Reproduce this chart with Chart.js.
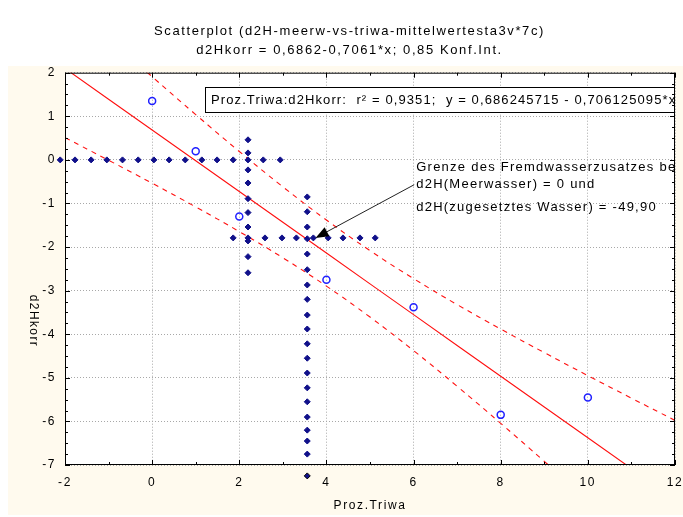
<!DOCTYPE html>
<html>
<head>
<meta charset="utf-8">
<script src="https://cdn.jsdelivr.net/npm/chart.js@4.4.0/dist/chart.umd.min.js"></script>
<style>
  html, body { margin: 0; padding: 0; background: #fff; }
  canvas { display: block; }
</style>
</head>
<body>
<canvas id="scatterChart" width="683" height="517"></canvas>
<script>
// measured points
var pointX = [0, 1, 2, 4, 6, 8, 10];
var pointY = [1.35, 0.2, -1.3, -2.75, -3.38, -5.85, -5.45];

// regression line and 0,85 confidence band
var lineX = [-2, -1, 0, 1, 2, 3, 4, 5, 6, 7, 8, 9, 10, 11, 12];
var fitY = [2.098, 1.392, 0.686, -0.020, -0.726, -1.432, -2.138, -2.844, -3.550, -4.257, -4.963, -5.669, -6.375, -7.081, -7.787];
var upperY = [3.686, 2.792, 1.908, 1.039, 0.193, -0.618, -1.380, -2.082, -2.724, -3.320, -3.882, -4.422, -4.949, -5.466, -5.977];
var lowerY = [0.510, -0.008, -0.536, -1.079, -1.645, -2.246, -2.896, -3.606, -4.376, -5.194, -6.044, -6.916, -7.801, -8.696, -9.597];

// marker crosses
var row0X = [-2.11, -1.77, -1.4, -1.04, -0.68, -0.32, 0.04, 0.39, 0.76, 1.14, 1.49, 1.86, 2.2, 2.55, 2.94];
var row0Y = 0;
var col1X = 2.2;
var col1Y = [0.46, 0.16, -0.23, -0.53, -0.89, -1.21, -1.54, -1.86, -2.22, -2.59];
var row2X = [1.86, 2.2, 2.59, 2.98, 3.31, 3.7, 4.04, 4.38, 4.77, 5.12];
var row2Y = -1.79;
var col2X = 3.56;
var col2Y = [-0.85, -1.19, -1.54, -1.81, -2.16, -2.52, -2.87, -3.2, -3.56, -3.88, -4.22, -4.55, -4.89, -5.23, -5.55, -5.9, -6.2, -6.45, -6.75, -7.25];

var xTicks = [-2, 0, 2, 4, 6, 8, 10, 12];
var yTicks = [2, 1, 0, -1, -2, -3, -4, -5, -6, -7];

var titleLines = ['Scatterplot (d2H-meerw-vs-triwa-mittelwertesta3v*7c)', 'd2Hkorr = 0,6862-0,7061*x; 0,85 Konf.Int.'];
var boxText = 'Proz.Triwa:d2Hkorr:  r\u00B2 = 0,9351;  y = 0,686245715 - 0,706125095*x';
var noteLines = ['Grenze des Fremdwasserzusatzes bei', 'd2H(Meerwasser) = 0 und', 'd2H(zugesetztes Wasser) = -49,90'];

var FONT = '"Liberation Sans", Arial, sans-serif';
var MARK = '#10108a';

function pairs(xs, ys) {
    return xs.map(function (x, i) { return { x: x, y: ys[i] }; });
}

var decor = {
    id: 'decor',
    beforeDraw: function (chart) {
        var c = chart.ctx, a = chart.chartArea;
        c.save();
        c.fillStyle = '#fffaee';
        c.fillRect(8, 66, chart.width - 8, 515 - 66);
        c.fillStyle = '#ffffff';
        c.fillRect(a.left, a.top, a.right - a.left, a.bottom - a.top);
        c.restore();
        c.letterSpacing = '1.6px';
    },
    afterDatasetsDraw: function (chart) {
        var c = chart.ctx, a = chart.chartArea;
        var xs = chart.scales.x, ys = chart.scales.y;
        c.save();
        c.beginPath();
        c.rect(a.left, a.top, a.right - a.left, a.bottom - a.top);
        c.clip();

        // regression box
        c.fillStyle = '#fff';
        c.fillRect(205, 87, a.right - 205, 25);
        c.strokeStyle = '#000';
        c.lineWidth = 1;
        c.strokeRect(205.5, 87.5, a.right - 205, 25);
        c.fillStyle = '#000';
        c.font = '13px ' + FONT;
        c.letterSpacing = '1.1px';
        c.textBaseline = 'middle';
        c.fillText(boxText, 211, 100);

        // note text + arrow
        var nx = xs.getPixelForValue(6.06);
        var ny = ys.getPixelForValue(-0.18);
        c.letterSpacing = '1.25px';
        c.fillText(noteLines[0], nx, ny);
        c.fillText(noteLines[1], nx, ny + 17);
        c.fillText(noteLines[2], nx, ny + 40);

        var sx = nx - 2, sy = ny + 17;
        var tx = xs.getPixelForValue(3.75), ty = ys.getPixelForValue(-1.79);
        var ang = Math.atan2(ty - sy, tx - sx);
        c.strokeStyle = '#222';
        c.lineWidth = 1;
        c.beginPath();
        c.moveTo(sx, sy);
        c.lineTo(tx - 8 * Math.cos(ang), ty - 8 * Math.sin(ang));
        c.stroke();
        c.fillStyle = '#000';
        c.beginPath();
        c.moveTo(tx, ty);
        c.lineTo(tx - 13 * Math.cos(ang) + 5 * Math.sin(ang), ty - 13 * Math.sin(ang) - 5 * Math.cos(ang));
        c.lineTo(tx - 13 * Math.cos(ang) - 5 * Math.sin(ang), ty - 13 * Math.sin(ang) + 5 * Math.cos(ang));
        c.closePath();
        c.fill();
        c.restore();
    },
    afterDraw: function (chart) {
        var c = chart.ctx, a = chart.chartArea;
        var xs = chart.scales.x, ys = chart.scales.y;
        c.save();
        c.strokeStyle = '#000';
        c.lineWidth = 1;
        c.strokeRect(a.left + 0.5, a.top + 0.5, a.right - a.left - 1, a.bottom - a.top - 1);
        c.beginPath();
        var v, p, len;
        for (v = -2; v <= 12; v += 1) {
            p = Math.round(xs.getPixelForValue(v)) + 0.5;
            len = v % 2 === 0 ? 5 : 3;
            c.moveTo(p, a.bottom); c.lineTo(p, a.bottom - len);
            c.moveTo(p, a.top); c.lineTo(p, a.top + len);
        }
        for (v = -7; v <= 2; v += 0.25) {
            p = Math.round(ys.getPixelForValue(v)) + 0.5;
            len = Math.abs(v - Math.round(v)) < 0.01 ? 5 : 3;
            c.moveTo(a.left, p); c.lineTo(a.left + len, p);
            c.moveTo(a.right, p); c.lineTo(a.right - len, p);
        }
        c.stroke();

        // markers of the vertical cross that fall below the axis
        c.fillStyle = MARK;
        col2Y.forEach(function (y) {
            if (y < ys.min) {
                Chart.helpers.drawPoint(c, { pointStyle: 'rectRot', radius: 3, borderWidth: 1 },
                    xs.getPixelForValue(col2X), ys.getPixelForValue(y));
            }
        });

        // y axis title reads top to bottom
        c.translate(33, 321);
        c.rotate(Math.PI / 2);
        c.fillStyle = '#000';
        c.font = '12px ' + FONT;
        c.letterSpacing = '1.4px';
        c.textAlign = 'center';
        c.textBaseline = 'middle';
        c.fillText('d2Hkorr', 0, 0);
        c.restore();
    }
};

var markerStyle = {
    showLine: false,
    pointStyle: 'rectRot',
    pointRadius: 3,
    backgroundColor: MARK,
    borderColor: MARK,
    borderWidth: 1
};

var ctx = document.getElementById('scatterChart').getContext('2d');
var scatterChart = new Chart(ctx, {
    type: 'scatter',
    data: {
        datasets: [
            Object.assign({ data: pairs(row0X, row0X.map(function () { return row0Y; })), clip: false }, markerStyle),
            Object.assign({ data: pairs(col1Y.map(function () { return col1X; }), col1Y) }, markerStyle),
            Object.assign({ data: pairs(row2X, row2X.map(function () { return row2Y; })) }, markerStyle),
            Object.assign({ data: pairs(col2Y.map(function () { return col2X; }), col2Y), clip: false }, markerStyle),
            {
                data: pairs(lineX, fitY),
                showLine: true,
                pointRadius: 0,
                borderColor: '#ff1010',
                borderWidth: 1.1
            },
            {
                data: pairs(lineX, upperY),
                showLine: true,
                pointRadius: 0,
                tension: 0.4,
                borderColor: '#ff1010',
                borderWidth: 1.1,
                borderDash: [5, 5]
            },
            {
                data: pairs(lineX, lowerY),
                showLine: true,
                pointRadius: 0,
                tension: 0.4,
                borderColor: '#ff1010',
                borderWidth: 1.1,
                borderDash: [5, 5]
            },
            {
                data: pairs(pointX, pointY),
                showLine: false,
                pointStyle: 'circle',
                pointRadius: 3.5,
                backgroundColor: 'rgba(0,0,0,0)',
                borderColor: '#2020ff',
                borderWidth: 1.5
            }
        ]
    },
    options: {
        responsive: false,
        animation: false,
        devicePixelRatio: 1,
        layout: { padding: { left: 24, right: 8, top: 0, bottom: 0 } },
        plugins: {
            legend: { display: false },
            tooltip: { enabled: false },
            title: {
                display: true,
                text: titleLines,
                color: '#000',
                font: { family: FONT, size: 13, weight: 'normal', lineHeight: 1.45 },
                padding: { top: 22, bottom: 13 }
            }
        },
        scales: {
            x: {
                type: 'linear',
                min: -2,
                max: 12,
                afterBuildTicks: function (axis) {
                    axis.ticks = xTicks.map(function (v) { return { value: v }; });
                },
                afterFit: function (scale) {
                    scale.height = 52;
                    scale.paddingLeft = 0;
                    scale.paddingRight = 0;
                },
                grid: { color: '#a8a8a8', lineWidth: 1, drawTicks: false },
                border: { display: false, dash: [1, 2] },
                ticks: { color: '#000', padding: 10, font: { family: FONT, size: 12 } },
                title: {
                    display: true,
                    text: 'Proz.Triwa',
                    color: '#000',
                    font: { family: FONT, size: 12 },
                    padding: { top: 0, bottom: 4 }
                }
            },
            y: {
                type: 'linear',
                min: -7,
                max: 2,
                afterBuildTicks: function (axis) {
                    axis.ticks = yTicks.map(function (v) { return { value: v }; });
                },
                afterFit: function (scale) {
                    scale.width = 41;
                    scale.paddingTop = 0;
                    scale.paddingBottom = 0;
                },
                grid: { color: '#a8a8a8', lineWidth: 1, drawTicks: false },
                border: { display: false, dash: [1, 2] },
                ticks: { color: '#000', padding: 9, font: { family: FONT, size: 12 } }
            }
        }
    },
    plugins: [decor]
});
</script>
</body>
</html>
